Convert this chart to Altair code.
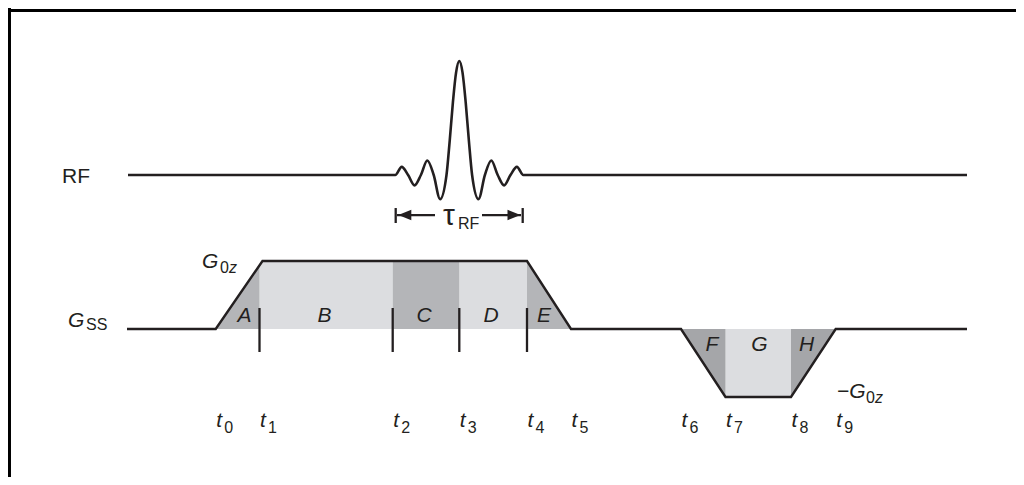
import altair as alt
import pandas as pd

W, H = 1008, 469
INK = "#231f20"
FONT = "Liberation Sans"

# time axis in arbitrary units, amplitude axis in units of G0z
X_DOMAIN = [-119, 889]
Y_DOMAIN = [(329 - 477) / 68, (329 - 8) / 68]

# time points t0..t9
t_names = ["0", "1", "2", "3", "4", "5", "6", "7", "8", "9"]
t_times = [88.7, 132.5, 265.7, 332.3, 400.0, 444.0, 554.0, 598.5, 664.0, 708.7]
tick_idx = [1, 2, 3, 4]  # vertical markers under the slice-select lobe

# slice-select gradient waveform (units of G0z)
g_time = [0, 88.7, 135.5, 400.0, 444.0, 554.0, 598.5, 664.0, 708.7, 840]
g_amp = [0, 0, 1, 1, 0, 0, -1, -1, 0, 0]

# shaded areas under the gradient
region_names = ["A", "B", "C", "D", "E", "F", "G", "H"]
region_shade = ["dark", "light", "dark", "light", "dark", "darker", "light", "darker"]
region_time = [[88.7, 132.5], [132.5, 135.5, 265.7], [265.7, 332.3], [332.3, 400.0],
               [400.0, 444.0], [554.0, 598.5], [598.5, 664.0], [664.0, 708.7]]
region_amp = [[0, 0.936], [0.936, 1, 1], [1, 1], [1, 1],
              [1, 0], [0, -1], [-1, -1], [-1, 0]]
region_label_time = [117.5, 197.5, 297, 364, 417, 585, 632.5, 679.5]
region_label_amp = [0.103, 0.103, 0.103, 0.103, 0.103, -0.324, -0.324, -0.324]

# RF pulse (sinc-shaped), read at lobe positions (units of zero-crossing spacing)
rf_center, rf_unit = 332.3, 12.8
rf_start, rf_end = 1, 840
rf_u = [-5, -4.5, -4, -3.5, -3, -2.5, -2, -1.5, -1, -0.75, -0.5, -0.25, 0,
        0.25, 0.5, 0.75, 1, 1.5, 2, 2.5, 3, 3.5, 4, 4.5, 5]
rf_amp = [0, 0.071, 0, -0.091, 0, 0.127, 0, -0.212, 0, 0.300, 0.637, 0.900, 1,
          0.900, 0.637, 0.300, 0, -0.212, 0, 0.127, 0, -0.091, 0, 0.071, 0]
RF_BASE, RF_GAIN = 2.265, 1.676

# tau_RF arrow
tau_bars = [268.7, 395.7]
tau_y, tau_bar_lo, tau_bar_hi = 1.676, 1.559, 1.779
tau_shafts = [[270.0, 308.0], [355.0, 394.0]]
tau_heads = [277.8, 387.0]
tau_head_dir = ["left", "right"]

# ---------- build tables ----------
reg_rows = []
for name, shade, ts, ams in zip(region_names, region_shade, region_time, region_amp):
    for i, (t, a) in enumerate(zip(ts, ams)):
        reg_rows.append(dict(region=name, shade=shade, time=t, amp=a, base=0.0, i=i))
reg_df = pd.DataFrame(reg_rows)

g_df = pd.DataFrame(dict(time=g_time, amp=g_amp, i=range(len(g_time))))

rf_t = [rf_start] + [rf_center + rf_unit * u for u in rf_u] + [rf_end]
rf_a = [0] + rf_amp + [0]
rf_df = pd.DataFrame(dict(time=rf_t, amp=[RF_BASE + RF_GAIN * a for a in rf_a], i=range(len(rf_t))))

tick_df = pd.DataFrame(dict(time=[t_times[k] for k in tick_idx], y1=0.309, y2=-0.338))

bar_df = pd.DataFrame(dict(time=tau_bars, y1=tau_bar_lo, y2=tau_bar_hi))
shaft_df = pd.DataFrame(dict(time=[s[0] for s in tau_shafts], time2=[s[1] for s in tau_shafts], y=tau_y))
head_df = pd.DataFrame(dict(time=tau_heads, y=tau_y, d=tau_head_dir))

lab_rows = [
    ("RF", -65, 2.147, "roman"),
    ("G", -59, 0.029, "italic"),
    ("SS", -41, -0.015, "sub"),
    ("G", 75, 0.897, "italic"),
    ("0", 93, 0.824, "sub"),
    ("z", 102, 0.824, "subit"),
    ("\u2212G", 710, -1.015, "italic"),
    ("0", 739, -1.088, "sub"),
    ("z", 748, -1.088, "subit"),
    ("\u03c4", 316, 1.529, "tau"),
    ("RF", 331, 1.471, "sub"),
]
for n, t in zip(t_names, t_times):
    lab_rows.append(("t", t + 0.5, -1.441, "italic"))
    lab_rows.append((n, t + 8.5, -1.529, "sub"))
lab_df = pd.DataFrame(lab_rows, columns=["text", "time", "amp", "style"])

letter_df = pd.DataFrame(dict(text=region_names, time=region_label_time, amp=region_label_amp))

# ---------- encodings ----------
xs = alt.Scale(domain=X_DOMAIN, nice=False, zero=False)
ys = alt.Scale(domain=Y_DOMAIN, nice=False, zero=False)


def X(f):
    return alt.X(f, type="quantitative", scale=xs, axis=None)


def Y(f):
    return alt.Y(f, type="quantitative", scale=ys, axis=None, stack=None)


shade_layers = []
for shade, col in [("light", "#dcdde0"), ("dark", "#b4b5b8"), ("darker", "#a5a6a9")]:
    shade_layers.append(
        alt.Chart(reg_df).transform_filter(alt.datum.shade == shade).mark_area(
            color=col, opacity=1, interpolate="linear").encode(
            x=X("time"), y=Y("amp"), y2="base:Q", detail="region:N"))

g_line = alt.Chart(g_df).mark_line(color=INK, strokeWidth=2.4, strokeJoin="miter").encode(
    x=X("time"), y=Y("amp"), order=alt.Order("i:Q"))

rf_line = alt.Chart(rf_df).mark_line(color=INK, strokeWidth=2.6, interpolate="monotone").encode(
    x=X("time"), y=Y("amp"), order=alt.Order("i:Q"))

ticks = alt.Chart(tick_df).mark_rule(color=INK, strokeWidth=2.3).encode(
    x=X("time"), y=Y("y1"), y2="y2:Q")

bars = alt.Chart(bar_df).mark_rule(color=INK, strokeWidth=2.3).encode(
    x=X("time"), y=Y("y1"), y2="y2:Q")
shafts = alt.Chart(shaft_df).mark_rule(color=INK, strokeWidth=2.3).encode(
    x=X("time"), x2="time2:Q", y=Y("y"))
head_l = alt.Chart(head_df).transform_filter(alt.datum.d == "left").mark_point(
    shape="M-1,0L1,-0.8L1,0.8Z", size=169, filled=True, opacity=1, color=INK, strokeWidth=0).encode(
    x=X("time"), y=Y("y"))
head_r = alt.Chart(head_df).transform_filter(alt.datum.d == "right").mark_point(
    shape="M1,0L-1,-0.8L-1,0.8Z", size=169, filled=True, opacity=1, color=INK, strokeWidth=0).encode(
    x=X("time"), y=Y("y"))


def text_layer(style, size, italic, align="left"):
    kw = dict(font=FONT, fontSize=size, align=align, baseline="alphabetic", color=INK)
    if italic:
        kw["fontStyle"] = "italic"
    return alt.Chart(lab_df).transform_filter(alt.datum.style == style).mark_text(**kw).encode(
        x=X("time"), y=Y("amp"), text="text:N")


letters = alt.Chart(letter_df).mark_text(font=FONT, fontSize=21, fontStyle="italic", align="center",
                                         baseline="alphabetic", color=INK).encode(
    x=X("time"), y=Y("amp"), text="text:N")

texts = [
    text_layer("roman", 21, False),
    text_layer("italic", 21, True),
    text_layer("sub", 16, False),
    text_layer("subit", 16, True),
    text_layer("tau", 30, False),
]

frame_top = alt.Chart(g_df).mark_rule(color="#000", strokeWidth=2.3).encode(
    x=alt.value(0), x2=alt.value(W), y=alt.value(2.5))
frame_left = alt.Chart(g_df).mark_rule(color="#000", strokeWidth=2.3).encode(
    x=alt.value(1.2), y=alt.value(0), y2=alt.value(H))

chart = alt.layer(
    *shade_layers, g_line, rf_line, ticks, bars, shafts, head_l, head_r, letters, *texts,
    frame_top, frame_left
).properties(
    width=W, height=H, padding=0, background="white",
    autosize=alt.AutoSizeParams(type="none"),
).configure_view(stroke="transparent", strokeWidth=0)

chart.save("out.html", embed_options={"renderer": "svg", "actions": False})
